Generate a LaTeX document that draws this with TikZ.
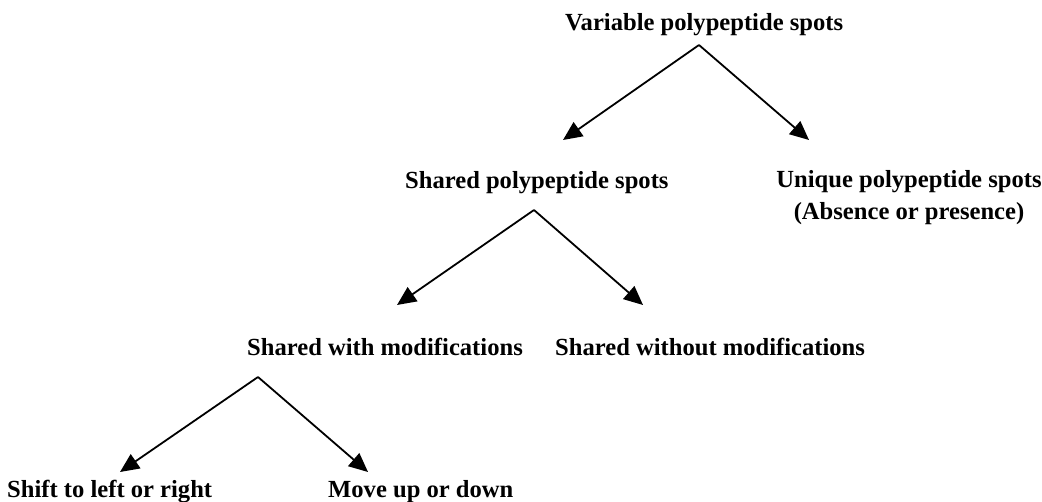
\documentclass[tikz,border=0pt]{standalone}
\usepackage{fontspec}
\setmainfont{Liberation Serif}
\usetikzlibrary{arrows.meta}
\tikzstyle{spot} = [inner sep=0pt, anchor=base west, font=\fontsize{24.6}{32}\selectfont\bfseries]
\tikzstyle{twoline} = [inner sep=0pt, anchor=base, font=\fontsize{24.6}{32}\selectfont\bfseries, align=center]
\tikzstyle{arrow} = [line width=1.8pt, -{Triangle[length=19pt, width=17pt]}]

\begin{document}
\begin{tikzpicture}[x=1pt, y=-1pt]
        \useasboundingbox (0,0) rectangle (1042,502);

        \node (node0) [spot] at (565,31) {Variable polypeptide spots};
        \node (node1) [spot] at (405,189) {Shared polypeptide spots};
        \node (node2) [twoline] at (909,220) {Unique polypeptide spots\\(Absence or presence)};
        \node (node3) [spot] at (247,356) {Shared with modifications};
        \node (node4) [spot] at (555,356) {Shared without modifications};
        \node (node5) [spot] at (7,497) {Shift to left or right};
        \node (node6) [spot] at (328,497) {Move up or down};

        \coordinate (top0) at (699,45);
        \coordinate (top1) at (534,210);
        \coordinate (top3) at (258,377);
        \coordinate (tip1) at (563,140);
        \coordinate (tip2) at (809,140);
        \coordinate (tip3) at (397,305);
        \coordinate (tip4) at (643,305);
        \coordinate (tip5) at (120,472);
        \coordinate (tip6) at (368,472);

        \draw [arrow] (top0) -- (tip1);
        \draw [arrow] (top0) -- (tip2);
        \draw [arrow] (top1) -- (tip3);
        \draw [arrow] (top1) -- (tip4);
        \draw [arrow] (top3) -- (tip5);
        \draw [arrow] (top3) -- (tip6);
    \end{tikzpicture}
\end{document}
